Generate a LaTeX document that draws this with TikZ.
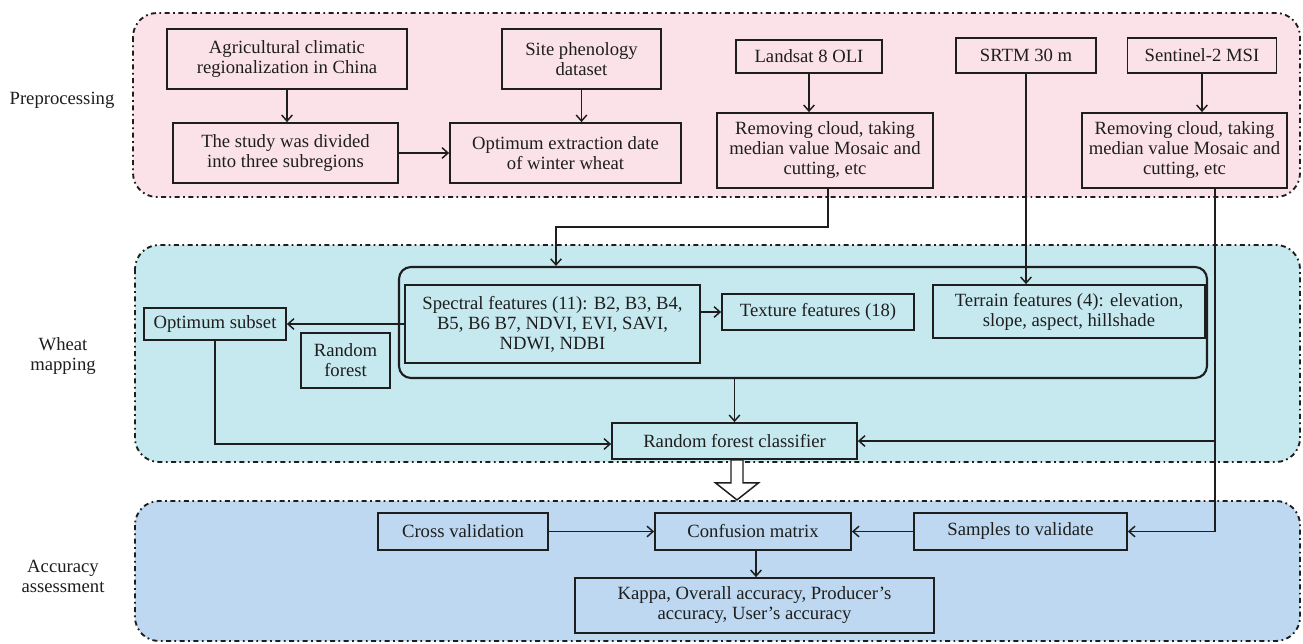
\documentclass[tikz,border=0pt]{standalone}
\usepackage{fontspec}
\setmainfont{Liberation Serif}
\usetikzlibrary{arrows.meta,calc}
\definecolor{pinkbg}{RGB}{251,226,232}
\definecolor{cyanbg}{RGB}{198,232,239}
\definecolor{bluebg}{RGB}{189,216,240}
\definecolor{ink}{RGB}{30,30,30}
\newcommand\myfs{\fontsize{14}{15}\selectfont}
\def\p{0.75pt}
\tikzset{
  box/.style={draw=ink, line width=1.35pt, inner sep=0pt, align=center, font=\myfs, text=ink},
  region/.style={draw=ink, line width=1.4pt, rounded corners=18pt,
    dash pattern=on 3.75pt off 2.6pt on 1.3pt off 2.6pt},
  lab/.style={align=center, font=\myfs, text=ink},
  arr/.style={draw=ink, line width=1.1pt, -{Straight Barb[length=4.5pt,width=8pt]}},
}
\begin{document}
\begin{tikzpicture}[x=0.75pt,y=-0.75pt]
\useasboundingbox (0,0) rectangle (1303,643);
% regions
\path[region, fill=pinkbg] (133,13) rectangle (1300,197);
\path[region, fill=cyanbg] (135,245) rectangle (1300,462);
\path[region, fill=bluebg] (135,501) rectangle (1300,641);
% labels
\node[lab] (lpre) at (62,100) {Preprocessing};
\node[lab] (lwheat) at (63,356) {Wheat\\mapping};
\node[lab] (lacc) at (63,576) {Accuracy\\assessment};
% preprocessing
\node[box, minimum width=240*\p, minimum height=60*\p] (agri) at (287,59) {Agricultural climatic\\regionalization in China};
\node[box, minimum width=225*\p, minimum height=60*\p] (study) at (285.5,153) {The study was divided\\into three subregions};
\node[box, minimum width=159*\p, minimum height=60*\p] (site) at (581.5,59) {Site phenology\\dataset};
\node[box, minimum width=231*\p, minimum height=60*\p] (optim) at (565.5,153) {Optimum extraction date\\of winter wheat};
\node[box, minimum width=146*\p, minimum height=33*\p] (landsat) at (809,56.5) {Landsat 8 OLI};
\node[box, minimum width=216*\p, minimum height=75*\p] (rem1) at (825,150.5) {Removing cloud, taking\\median value Mosaic and\\cutting, etc};
\node[box, minimum width=140*\p, minimum height=35*\p] (srtm) at (1026,55.5) {SRTM 30 m};
\node[box, minimum width=149*\p, minimum height=35*\p] (sentinel) at (1202,55.5) {Sentinel-2 MSI};
\node[box, minimum width=205*\p, minimum height=75*\p] (rem2) at (1184.5,150.5) {Removing cloud, taking\\median value Mosaic and\\cutting, etc};
% wheat mapping
\node[draw=ink, line width=1.6pt, rounded corners=9pt, minimum width=808*\p, minimum height=111*\p, inner sep=0pt] (outer) at (803,322.5) {};
\node[box, minimum width=295*\p, minimum height=78*\p] (spectral) at (552.5,324) {Spectral features (11): B2, B3, B4,\\B5, B6 B7, NDVI, EVI, SAVI,\\NDWI, NDBI};
\node[box, minimum width=192*\p, minimum height=36*\p] (texture) at (818,312) {Texture features (18)};
\node[box, minimum width=272*\p, minimum height=53*\p] (terrain) at (1069,311.5) {Terrain features (4): elevation,\\slope, aspect, hillshade};
\node[box, minimum width=142*\p, minimum height=32*\p] (optsub) at (215,324) {Optimum subset};
\node[box, minimum width=89*\p, minimum height=55*\p] (rf) at (345.5,360.5) {Random\\forest};
\node[box, minimum width=245*\p, minimum height=36*\p] (rfc) at (734.5,441) {Random forest classifier};
% accuracy
\node[box, minimum width=170*\p, minimum height=37*\p] (cross) at (463,531.5) {Cross validation};
\node[box, minimum width=196*\p, minimum height=37*\p] (conf) at (753,531.5) {Confusion matrix};
\node[box, minimum width=213*\p, minimum height=37*\p] (samples) at (1020.5,531.5) {Samples to validate};
\node[box, minimum width=359*\p, minimum height=55*\p] (kappa) at (754.5,605.5) {Kappa, Overall accuracy, Producer's\\accuracy, User's accuracy};
% connectors preprocessing
\draw[arr] (agri.south) -- (agri.south |- study.north);
\draw[arr] (study.east) -- (optim.west);
\draw[arr] (site.south) -- (site.south |- optim.north);
\draw[arr] (landsat.south) -- (landsat.south |- rem1.north);
\draw[arr] (sentinel.south) -- (sentinel.south |- rem2.north);
% to wheat mapping
\coordinate (r1b) at ($(rem1.south)+(3,0)$);
\coordinate (bend1) at (556,227);
\draw[arr] (r1b) |- (bend1) -- (bend1 |- outer.north);
\draw[arr] (srtm.south) -- (srtm.south |- terrain.north);
\coordinate (r2b) at ($(rem2.south)+(30.5,0)$);
\draw[arr] (r2b) |- (rfc.east);
\draw[arr] (r2b) |- (samples.east);
% wheat mapping internal
\draw[arr] (spectral.west) -- (optsub.east);
\draw[arr] (spectral.east |- texture.west) -- (texture.west);
\coordinate (rfcin) at ($(rfc.west)+(0,3)$);
\draw[arr] (optsub.south) |- (rfcin);
\draw[arr] (rfc.north |- outer.south) -- (rfc.north);
% hollow arrow
\begin{scope}[shift={(rfc.south)}]
\draw[draw=ink, line width=1.1pt, fill=white, line join=miter]
  (-3.5,0) -- (8.5,0) -- (8.5,23) -- (24,23) -- (2.5,40) -- (-19,23) -- (-3.5,23) -- cycle;
\end{scope}
% accuracy internal
\draw[arr] (cross.east) -- (conf.west);
\draw[arr] (samples.west) -- (conf.east);
\coordinate (confb) at ($(conf.south)+(3,0)$);
\draw[arr] (confb) -- (confb |- kappa.north);
\end{tikzpicture}
\end{document}
